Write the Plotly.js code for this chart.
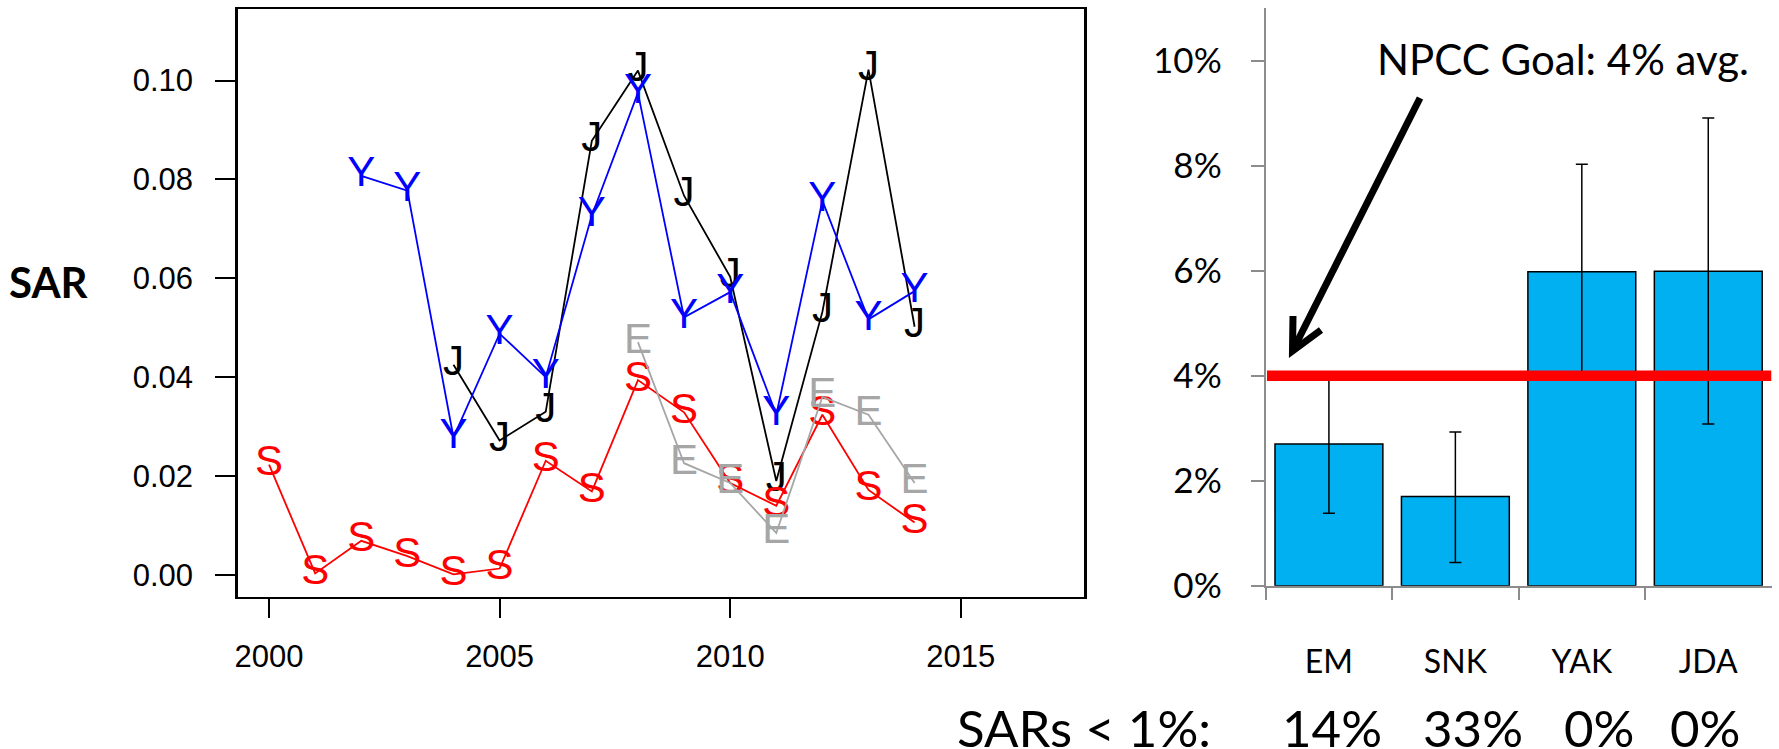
<!DOCTYPE html>
<html>
<head>
<meta charset="utf-8">
<script src="https://cdn.plot.ly/plotly-3.0.1.min.js"></script>
<style>
  html, body { margin: 0; padding: 0; background: #ffffff; }
  #chart { width: 1779px; height: 749px; }
</style>
</head>
<body>
<div id="chart"></div>
<script>
// ---------- data: left panel (SAR by year, letters mark each population) ----------
const yearsS = [2000, 2001, 2002, 2003, 2004, 2005, 2006, 2007, 2008, 2009, 2010, 2011, 2012, 2013, 2014];
const sarS   = [0.0223, 0.0003, 0.0069, 0.0038, 0.0001, 0.0013, 0.0231, 0.0169, 0.0394, 0.0329, 0.0186, 0.0140, 0.0324, 0.0172, 0.0106];

const yearsY = [2002, 2003, 2004, 2005, 2006, 2007, 2008, 2009, 2010, 2011, 2012, 2013, 2014];
const sarY   = [0.0807, 0.0777, 0.0278, 0.0488, 0.0400, 0.0727, 0.0975, 0.0521, 0.0572, 0.0324, 0.0757, 0.0517, 0.0574];

const yearsJ = [2004, 2005, 2006, 2007, 2008, 2009, 2010, 2011, 2012, 2013, 2014];
const sarJ   = [0.0425, 0.0272, 0.0330, 0.0878, 0.1020, 0.0767, 0.0603, 0.0190, 0.0532, 0.1022, 0.0502];

const yearsE = [2008, 2009, 2010, 2011, 2012, 2013, 2014];
const sarE   = [0.0471, 0.0226, 0.0186, 0.0085, 0.0360, 0.0324, 0.0186];

const xTicks = [2000, 2005, 2010, 2015];
const yTicks = [0, 0.02, 0.04, 0.06, 0.08, 0.10];

// ---------- data: right panel (mean SAR by population) ----------
const populations = ["EM", "SNK", "YAK", "JDA"];
const meanSAR     = [0.0270, 0.0170, 0.0598, 0.0599];
const ciUpper     = [0.0400, 0.0293, 0.0803, 0.0891];
const ciLower     = [0.0138, 0.0044, 0.0400, 0.0308];
const pctTicks    = [0, 0.02, 0.04, 0.06, 0.08, 0.10];
const goal        = 0.04;
const goalLabel   = "NPCC Goal: 4% avg.";
const sarsBelowLabel = "SARs < 1%:";
const sarsBelow1  = ["14%", "33%", "0%", "0%"];

// ---------- helpers ----------
const W = 1779, H = 749;
const px = v => v / W;
const py = v => (H - v) / H;

function letterTrace(x, y, letter, color, xa, ya) {
  return {
    type: "scatter", mode: "lines+text",
    x: x, y: y,
    text: x.map(() => letter),
    textposition: "middle center",
    textfont: { family: "Liberation Sans, Arial, sans-serif", size: 42, color: color },
    line: { color: color, width: 1.8 },
    xaxis: xa, yaxis: ya,
    hoverinfo: "skip", showlegend: false, cliponaxis: false
  };
}

const traces = [
  letterTrace(yearsJ, sarJ, "J", "#000000", "x", "y"),
  letterTrace(yearsY, sarY, "Y", "#0000FF", "x", "y"),
  letterTrace(yearsS, sarS, "S", "#FF0000", "x", "y"),
  letterTrace(yearsE, sarE, "E", "#A6A6A6", "x", "y"),
  {
    type: "bar",
    x: populations, y: meanSAR,
    xaxis: "x2", yaxis: "y2",
    marker: { color: "#00B0F0", line: { color: "#000000", width: 1.5 } },
    error_y: {
      type: "data", symmetric: false,
      array: ciUpper.map((u, i) => u - meanSAR[i]),
      arrayminus: ciLower.map((l, i) => meanSAR[i] - l),
      color: "#000000", thickness: 1.5, width: 6
    },
    hoverinfo: "skip", showlegend: false
  }
];

const grayAxis = "#8C8C8C";

const layout = {
  width: W, height: H,
  margin: { l: 0, r: 0, t: 0, b: 0 },
  paper_bgcolor: "#ffffff", plot_bgcolor: "rgba(0,0,0,0)",
  font: { family: "Liberation Sans, Arial, sans-serif", color: "#000000" },
  showlegend: false,
  bargap: 0.147,
  xaxis: {
    domain: [px(237.7), px(1084.3)],
    range: [1999.32, 2017.68],
    tickvals: xTicks, ticktext: xTicks.map(String),
    ticks: "outside", ticklen: 19, tickwidth: 2, tickcolor: "#000000",
    showline: true, mirror: true, linecolor: "#000000", linewidth: 2.5,
    showgrid: false, zeroline: false,
    tickfont: { family: "Liberation Sans, Arial, sans-serif", size: 31, color: "#000000" },
    ticklabelstandoff: 12,
    anchor: "y"
  },
  yaxis: {
    domain: [py(596.7), py(9.3)],
    range: [-0.0044, 0.1144],
    tickvals: yTicks, tickformat: ".2f",
    ticks: "outside", ticklen: 20, tickwidth: 2, tickcolor: "#000000",
    showline: true, mirror: true, linecolor: "#000000", linewidth: 2.5,
    showgrid: false, zeroline: false,
    tickfont: { family: "Liberation Sans, Arial, sans-serif", size: 31, color: "#000000" },
    ticklabelstandoff: 16,
    anchor: "x"
  },
  xaxis2: {
    domain: [px(1265.7), px(1771.5)],
    range: [-0.5, 3.5],
    type: "category",
    tickson: "boundaries",
    ticks: "outside", ticklen: 12, tickwidth: 2, tickcolor: grayAxis,
    showline: true, linecolor: grayAxis, linewidth: 2,
    showgrid: false, zeroline: false,
    tickfont: { family: "Lato, sans-serif", size: 32, color: "#000000" },
    ticklabelstandoff: 47,
    anchor: "y2"
  },
  yaxis2: {
    domain: [py(585.7), py(8.2)],
    range: [0, 0.11],
    tickvals: pctTicks, tickformat: ".0%",
    ticks: "outside", ticklen: 13, tickwidth: 2, tickcolor: grayAxis,
    showline: true, linecolor: grayAxis, linewidth: 2,
    showgrid: false, zeroline: false,
    tickfont: { family: "Lato, sans-serif", size: 35, color: "#000000" },
    ticklabelstandoff: 22,
    anchor: "x2"
  },
  shapes: [
    // NPCC goal line
    { type: "line", xref: "x2", yref: "y2", x0: -0.49, x1: 3.5, y0: goal, y1: goal,
      line: { color: "#FF0000", width: 10.5 }, layer: "above" },
    // arrow shaft
    { type: "path", xref: "paper", yref: "paper",
      path: `M ${px(1420)} ${py(98)} L ${px(1293)} ${py(350)}`,
      line: { color: "#000000", width: 7 } },
    // arrow head (open chevron)
    { type: "path", xref: "paper", yref: "paper",
      path: `M ${px(1293)} ${py(316)} L ${px(1292.5)} ${py(351)} L ${px(1321)} ${py(330)}`,
      line: { color: "#000000", width: 7 } }
  ],
  annotations: [
    { text: "SAR", xref: "paper", yref: "paper", x: px(48.5), y: py(282),
      xanchor: "center", yanchor: "middle", showarrow: false,
      font: { family: "Lato, sans-serif", size: 42, weight: 700, color: "#000000" } },
    { text: goalLabel, xref: "paper", yref: "paper", x: px(1563), y: py(59),
      xanchor: "center", yanchor: "middle", showarrow: false,
      font: { family: "Lato, sans-serif", size: 42, color: "#000000" } },
    { text: sarsBelowLabel, xref: "paper", yref: "paper", x: px(1084), y: py(727),
      xanchor: "center", yanchor: "middle", showarrow: false,
      font: { family: "Lato, sans-serif", size: 51, color: "#000000" } }
  ].concat(sarsBelow1.map((t, i) => ({
    text: t, xref: "paper", yref: "paper",
    x: px([1332, 1472.5, 1599, 1705][i]), y: py(727),
    xanchor: "center", yanchor: "middle", showarrow: false,
    font: { family: "Lato, sans-serif", size: 51, color: "#000000" }
  })))
};

Plotly.newPlot("chart", traces, layout, { staticPlot: true, displayModeBar: false });
</script>
</body>
</html>
